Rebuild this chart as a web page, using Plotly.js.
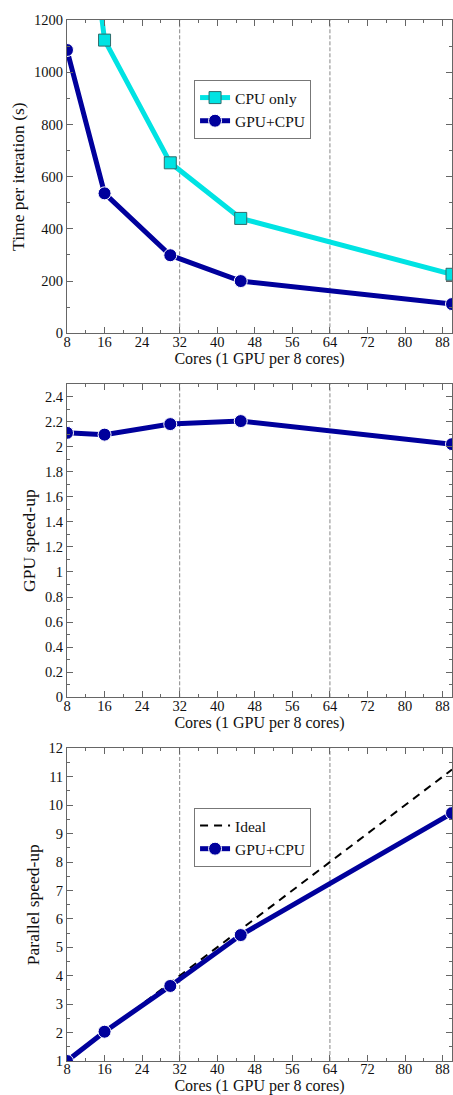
<!DOCTYPE html>
<html>
<head>
<meta charset="utf-8">
<script src="https://cdn.plot.ly/plotly-3.0.1.min.js"></script>
<style>html,body{margin:0;padding:0;background:#fff;}#chart{width:453px;height:1095px;}</style>
</head>
<body>
<div id="chart"></div>
<script>
// ---- data ----
var cores = [8, 16, 30, 45, 90];
var timeCpuOnly = [2285, 1123, 653, 440, 226];
var timeGpuCpu = [1085, 536, 299, 200, 112];
var gpuSpeedup = [2.11, 2.096, 2.18, 2.204, 2.02];
var parallelSpeedup = [1.0, 2.03, 3.64, 5.43, 9.72];
var idealSpeedup = [1, 2, 3.75, 5.625, 11.25];
var xTickVals = [8, 16, 24, 32, 40, 48, 56, 64, 72, 80, 88];
var gpuMarkLines = [32, 64];

var CYAN = '#00e3e3';
var BLUE = '#00009c';
var FONT = 'Liberation Serif, Times New Roman, serif';

var traces = [
  {x: cores, y: timeCpuOnly, xaxis: 'x', yaxis: 'y', name: 'CPU only', mode: 'lines+markers',
   line: {color: CYAN, width: 5}, marker: {symbol: 'square', size: 12, color: CYAN, line: {color: '#2f6b6b', width: 1}},
   legend: 'legend'},
  {x: cores, y: timeGpuCpu, xaxis: 'x', yaxis: 'y', name: 'GPU+CPU', mode: 'lines+markers',
   line: {color: BLUE, width: 5}, marker: {symbol: 'circle', size: 13, color: BLUE, line: {color: '#ffffff', width: 1}},
   legend: 'legend'},
  {x: cores, y: gpuSpeedup, xaxis: 'x2', yaxis: 'y2', name: 'GPU+CPU', mode: 'lines+markers', showlegend: false,
   line: {color: BLUE, width: 5}, marker: {symbol: 'circle', size: 13, color: BLUE, line: {color: '#ffffff', width: 1}}},
  {x: cores, y: idealSpeedup, xaxis: 'x3', yaxis: 'y3', name: 'Ideal', mode: 'lines',
   line: {color: '#000000', width: 2, dash: '8px,6px'}, legend: 'legend2'},
  {x: cores, y: parallelSpeedup, xaxis: 'x3', yaxis: 'y3', name: 'GPU+CPU', mode: 'lines+markers',
   line: {color: BLUE, width: 5}, marker: {symbol: 'circle', size: 13, color: BLUE, line: {color: '#ffffff', width: 1}},
   legend: 'legend2'}
];

function xax(anchor) {
  return {
    anchor: anchor, domain: [0, 1], range: [8, 90], tickvals: xTickVals,
    ticks: 'inside', ticklen: 6, tickcolor: '#666', tickwidth: 1, ticklabelstandoff: -5,
    minor: {dtick: 4, tick0: 8, ticks: 'inside', ticklen: 3, tickcolor: '#666'},
    showline: true, linecolor: '#666', linewidth: 1, mirror: 'ticks', showgrid: false, zeroline: false,
    tickfont: {family: FONT, size: 14.5, color: '#111'},
    title: {text: 'Cores (1 GPU per 8 cores)', font: {family: FONT, size: 16, color: '#111'}, standoff: 0}
  };
}
function yax(anchor, domain, range, dtick, minorDtick, title) {
  return {
    anchor: anchor, domain: domain, range: range, dtick: dtick, tick0: 0,
    ticks: 'inside', ticklen: 6, tickcolor: '#666', tickwidth: 1,
    minor: {dtick: minorDtick, ticks: 'inside', ticklen: 3, tickcolor: '#666'},
    showline: true, linecolor: '#666', linewidth: 1, mirror: 'ticks', showgrid: false, zeroline: false,
    tickfont: {family: FONT, size: 14.5, color: '#111'},
    title: {text: title, font: {family: FONT, size: 17.5, color: '#111'}, standoff: 4}
  };
}

var shapes = [];
['x', 'x2', 'x3'].forEach(function (xa, i) {
  var ya = ['y', 'y2', 'y3'][i];
  gpuMarkLines.forEach(function (v) {
    shapes.push({type: 'line', xref: xa, yref: ya + ' domain', x0: v, x1: v, y0: 0, y1: 1,
      line: {color: '#888', width: 1, dash: '4px,2px'}, layer: 'below'});
  });
});

var legendStyle = {
  bgcolor: '#ffffff', bordercolor: '#777', borderwidth: 1,
  font: {family: FONT, size: 15.5, color: '#111'},
  xanchor: 'left', yanchor: 'top', tracegroupgap: 0, itemwidth: 30
};

var layout = {
  width: 453, height: 1095,
  margin: {l: 67, r: 1, t: 0, b: 24},
  paper_bgcolor: '#ffffff', plot_bgcolor: '#ffffff',
  font: {family: FONT},
  xaxis: xax('y'),
  xaxis2: xax('y2'),
  xaxis3: xax('y3'),
  yaxis: yax('x', [0.68880, 0.98133], [0, 1200], 200, 100, 'Time per iteration (s)'),
  yaxis2: yax('x2', [0.34893, 0.64146], [0, 2.5], 0.2, 0.1, 'GPU speed-up'),
  yaxis3: yax('x3', [0.00934, 0.30131], [1, 12], 1, 0.5, 'Parallel speed-up'),
  legend: Object.assign({x: 0.33, y: 0.9253}, legendStyle),
  legend2: Object.assign({x: 0.33, y: 0.2456}, legendStyle),
  shapes: shapes,
  showlegend: true
};

Plotly.newPlot('chart', traces, layout, {staticPlot: true, displayModeBar: false});
</script>
</body>
</html>
